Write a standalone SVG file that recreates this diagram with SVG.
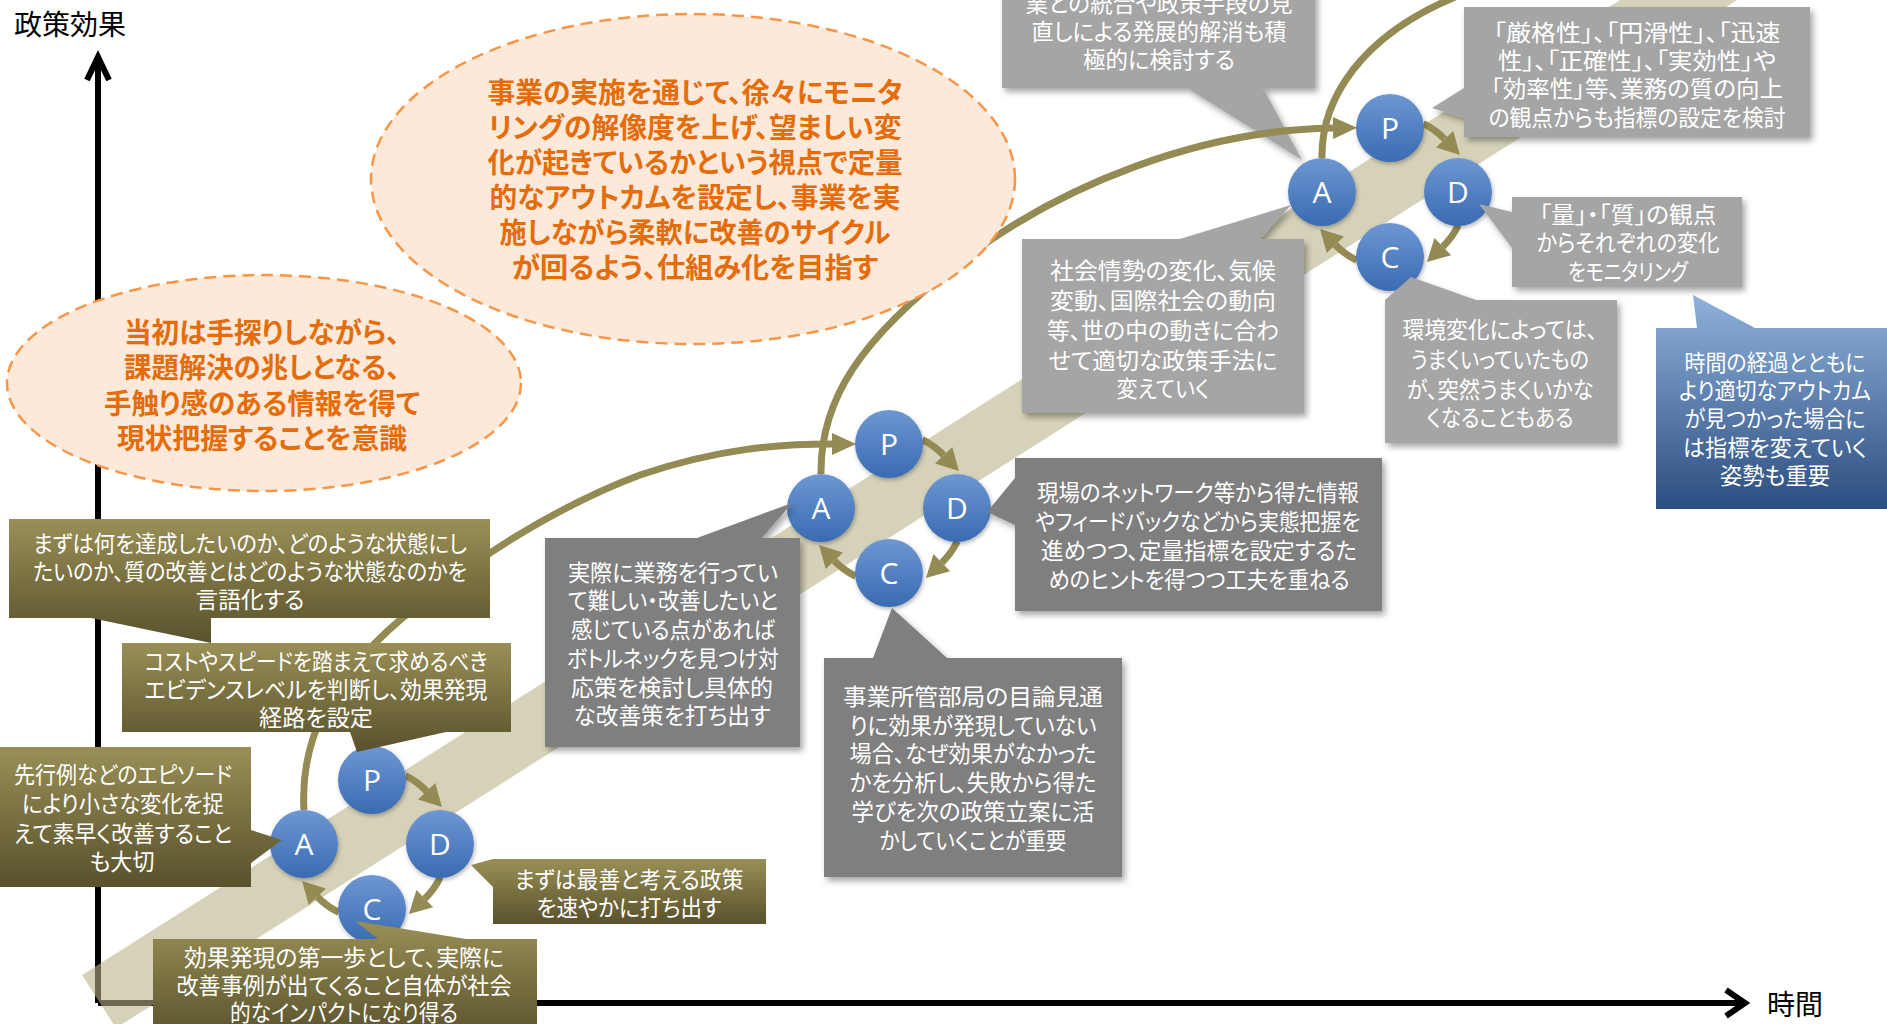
<svg xmlns="http://www.w3.org/2000/svg" width="1887" height="1024" viewBox="0 0 1887 1024">
<defs>
<style>
.t{font-family:"Noto Sans CJK JP","Noto Sans CJK SC",sans-serif;font-size:23px;fill:#fff;text-anchor:middle;font-feature-settings:"palt" 1;}
.e{font-family:"Noto Sans CJK JP","Noto Sans CJK SC",sans-serif;font-size:28px;font-weight:bold;fill:#e46c0a;text-anchor:middle;font-feature-settings:"palt" 1;}
.ax{font-family:"Noto Sans CJK JP","Noto Sans CJK SC",sans-serif;font-size:28px;fill:#000;}
.l{font-family:"Open Sans","Liberation Sans",sans-serif;font-size:30px;fill:#fff;text-anchor:middle;}
.olive{fill:url(#og);}
.gd{fill:#7f7f7f;filter:url(#sh);}
.gl{fill:#a5a5a5;filter:url(#sh);}
.cn{fill:none;stroke:#948a54;stroke-width:7;}
.ell{fill:#fde9d9;stroke:#f79646;stroke-width:2.5;stroke-dasharray:12 7;}
.ball{fill:url(#bg);filter:url(#bs);}
.axis{fill:none;stroke:#000;stroke-width:6;}
</style>
<linearGradient id="og" x1="0" y1="0" x2="0" y2="1"><stop offset="0" stop-color="#998f56"/><stop offset="1" stop-color="#59512c"/></linearGradient>
<linearGradient id="bb" x1="0" y1="0" x2="0" y2="1"><stop offset="0" stop-color="#8fb2dc"/><stop offset="1" stop-color="#2b4e80"/></linearGradient>
<linearGradient id="bg" x1="0" y1="0" x2="0" y2="1"><stop offset="0" stop-color="#6d97d2"/><stop offset="1" stop-color="#3a6bb2"/></linearGradient>
<filter id="sh" x="-10%" y="-10%" width="130%" height="130%"><feDropShadow dx="3" dy="4" stdDeviation="3" flood-color="#000" flood-opacity="0.35"/></filter>
<filter id="bs" x="-20%" y="-20%" width="150%" height="150%"><feDropShadow dx="1" dy="2" stdDeviation="2" flood-color="#000" flood-opacity="0.3"/></filter>
<marker id="ah" markerUnits="userSpaceOnUse" markerWidth="24" markerHeight="24" refX="0" refY="12" orient="auto" overflow="visible"><path d="M0,0 L22,12 L0,24 Z" fill="#948a54"/></marker>
<marker id="ahb" markerUnits="userSpaceOnUse" markerWidth="24" markerHeight="24" refX="0" refY="11" orient="auto" overflow="visible"><path d="M0,0 L24,11 L0,22 Z" fill="#948a54"/></marker>
</defs>

<g id="axes">
<path class="axis" d="M98,1003 V60"/>
<polyline class="axis" points="87,80 98,57 109,80"/>
<path class="axis" d="M98,1003 H1742"/>
<polyline class="axis" points="1726,990 1745,1003 1726,1016"/>
</g>

<g id="band"><polygon points="82,975 116,1028 1753,-10 1636,-10" fill="#bab288" fill-opacity="0.59"/></g>

<g id="box-g4">
<path class="gl" d="M1002,-10 H1315 V88 H1263 L1302,160 L1187,88 H1002 Z"/>
<text class="t" x="1159" y="12" textLength="267" lengthAdjust="spacingAndGlyphs">業との統合や政策手段の見</text>
<text class="t" x="1159" y="40" textLength="255" lengthAdjust="spacingAndGlyphs">直しによる発展的解消も積</text>
<text class="t" x="1159" y="68" textLength="152" lengthAdjust="spacingAndGlyphs">極的に検討する</text>
</g>

<g id="connectors">
<path class="cn" d="M304,810 C300,740 330,680 400,620 C470,560 560,505 640,475 C720,448 780,444 832,444" marker-end="url(#ahb)"/>
<path class="cn" d="M821,474 C820,400 860,339 960,262 C1060,185 1200,130 1333,128" marker-end="url(#ahb)"/>
<path class="cn" d="M1322,158 C1321,100 1360,35 1460,-5"/>
<g transform="translate(372,844)">
<path class="cn" d="M33.32,-68.31 A76,76 0 0 1 54.67,-52.79" marker-end="url(#ah)"/>
<path class="cn" d="M68.31,33.32 A76,76 0 0 1 52.79,54.67" marker-end="url(#ah)"/>
<path class="cn" d="M-33.32,68.31 A76,76 0 0 1 -54.67,52.79" marker-end="url(#ah)"/>
</g>
<g transform="translate(889,508)">
<path class="cn" d="M33.32,-68.31 A76,76 0 0 1 54.67,-52.79" marker-end="url(#ah)"/>
<path class="cn" d="M68.31,33.32 A76,76 0 0 1 52.79,54.67" marker-end="url(#ah)"/>
<path class="cn" d="M-33.32,68.31 A76,76 0 0 1 -54.67,52.79" marker-end="url(#ah)"/>
</g>
<g transform="translate(1390,192)">
<path class="cn" d="M33.32,-68.31 A76,76 0 0 1 54.67,-52.79" marker-end="url(#ah)"/>
<path class="cn" d="M68.31,33.32 A76,76 0 0 1 52.79,54.67" marker-end="url(#ah)"/>
<path class="cn" d="M-33.32,68.31 A76,76 0 0 1 -54.67,52.79" marker-end="url(#ah)"/>
</g>
</g>

<g id="ellipse-1">
<ellipse class="ell" cx="264" cy="383" rx="257" ry="108"/>
<text class="e" x="262" y="343" textLength="276" lengthAdjust="spacingAndGlyphs">当初は手探りしながら、</text>
<text class="e" x="262" y="378" textLength="276" lengthAdjust="spacingAndGlyphs">課題解決の兆しとなる、</text>
<text class="e" x="262" y="414" textLength="316" lengthAdjust="spacingAndGlyphs">手触り感のある情報を得て</text>
<text class="e" x="262" y="449" textLength="290" lengthAdjust="spacingAndGlyphs">現状把握することを意識</text>
</g>

<g id="ellipse-2">
<ellipse class="ell" cx="693" cy="179" rx="322" ry="165"/>
<text class="e" x="695" y="103" textLength="415" lengthAdjust="spacingAndGlyphs">事業の実施を通じて、徐々にモニタ</text>
<text class="e" x="695" y="138" textLength="413" lengthAdjust="spacingAndGlyphs">リングの解像度を上げ、望ましい変</text>
<text class="e" x="695" y="173" textLength="415" lengthAdjust="spacingAndGlyphs">化が起きているかという視点で定量</text>
<text class="e" x="695" y="208" textLength="411" lengthAdjust="spacingAndGlyphs">的なアウトカムを設定し、事業を実</text>
<text class="e" x="695" y="243" textLength="391" lengthAdjust="spacingAndGlyphs">施しながら柔軟に改善のサイクル</text>
<text class="e" x="695" y="278" textLength="366" lengthAdjust="spacingAndGlyphs">が回るよう、仕組み化を目指す</text>
</g>

<g id="c1-P"><circle class="ball" cx="372" cy="780" r="34"/><text class="l" x="372" y="791">P</text></g>
<g id="c1-A"><circle class="ball" cx="304" cy="844" r="34"/><text class="l" x="304" y="855">A</text></g>
<g id="c1-D"><circle class="ball" cx="440" cy="844" r="34"/><text class="l" x="440" y="855">D</text></g>
<g id="c1-C"><circle class="ball" cx="372" cy="909" r="34"/><text class="l" x="372" y="920">C</text></g>
<g id="c2-P"><circle class="ball" cx="889" cy="444" r="34"/><text class="l" x="889" y="455">P</text></g>
<g id="c2-A"><circle class="ball" cx="821" cy="508" r="34"/><text class="l" x="821" y="519">A</text></g>
<g id="c2-D"><circle class="ball" cx="957" cy="508" r="34"/><text class="l" x="957" y="519">D</text></g>
<g id="c2-C"><circle class="ball" cx="889" cy="573" r="34"/><text class="l" x="889" y="584">C</text></g>
<g id="c3-P"><circle class="ball" cx="1390" cy="128" r="34"/><text class="l" x="1390" y="139">P</text></g>
<g id="c3-A"><circle class="ball" cx="1322" cy="192" r="34"/><text class="l" x="1322" y="203">A</text></g>
<g id="c3-D"><circle class="ball" cx="1458" cy="192" r="34"/><text class="l" x="1458" y="203">D</text></g>
<g id="c3-C"><circle class="ball" cx="1390" cy="257" r="34"/><text class="l" x="1390" y="268">C</text></g>

<g id="box-o1">
<path class="olive" d="M9,519 H490 V618 H211 L211,643 L91,618 H9 Z"/>
<text class="t" x="250" y="552" textLength="434" lengthAdjust="spacingAndGlyphs">まずは何を達成したいのか、どのような状態にし</text>
<text class="t" x="250" y="580" textLength="434" lengthAdjust="spacingAndGlyphs">たいのか、質の改善とはどのような状態なのかを</text>
<text class="t" x="250" y="608" textLength="109" lengthAdjust="spacingAndGlyphs">言語化する</text>
</g>
<g id="box-o2">
<path class="olive" d="M122,643 H511 V732 H446 L357,752 L350,732 H122 Z"/>
<text class="t" x="316" y="670" textLength="343" lengthAdjust="spacingAndGlyphs">コストやスピードを踏まえて求めるべき</text>
<text class="t" x="316" y="698" textLength="343" lengthAdjust="spacingAndGlyphs">エビデンスレベルを判断し、効果発現</text>
<text class="t" x="316" y="726" textLength="114" lengthAdjust="spacingAndGlyphs">経路を設定</text>
</g>
<g id="box-o3">
<path class="olive" d="M0,747 H251 V830 L282,840 L251,863 V887 H0 Z"/>
<text class="t" x="123" y="783" textLength="218" lengthAdjust="spacingAndGlyphs">先行例などのエピソード</text>
<text class="t" x="123" y="812" textLength="202" lengthAdjust="spacingAndGlyphs">により小さな変化を捉</text>
<text class="t" x="123" y="842" textLength="218" lengthAdjust="spacingAndGlyphs">えて素早く改善すること</text>
<text class="t" x="122" y="870" textLength="65" lengthAdjust="spacingAndGlyphs">も大切</text>
</g>
<g id="box-o4">
<path class="olive" d="M493,859 H766 V924 H493 V887 L471,865 Z"/>
<text class="t" x="629" y="888" textLength="229" lengthAdjust="spacingAndGlyphs">まずは最善と考える政策</text>
<text class="t" x="629" y="916" textLength="185" lengthAdjust="spacingAndGlyphs">を速やかに打ち出す</text>
</g>
<g id="box-o5">
<path class="olive" d="M153,939 H378 L355,921 L466,939 H537 V1040 H153 Z"/>
<text class="t" x="344" y="966" textLength="320" lengthAdjust="spacingAndGlyphs">効果発現の第一歩として、実際に</text>
<text class="t" x="344" y="994" textLength="335" lengthAdjust="spacingAndGlyphs">改善事例が出てくること自体が社会</text>
<text class="t" x="344" y="1021" textLength="228" lengthAdjust="spacingAndGlyphs">的なインパクトになり得る</text>
</g>

<g id="box-g1">
<path class="gd" d="M545,538 H697 L792,503 L762,538 H800 V747 H545 Z"/>
<text class="t" x="673" y="581" textLength="210" lengthAdjust="spacingAndGlyphs">実際に業務を行ってい</text>
<text class="t" x="673" y="609" textLength="210" lengthAdjust="spacingAndGlyphs">て難しい・改善したいと</text>
<text class="t" x="673" y="638" textLength="204" lengthAdjust="spacingAndGlyphs">感じている点があれば</text>
<text class="t" x="673" y="667" textLength="212" lengthAdjust="spacingAndGlyphs">ボトルネックを見つけ対</text>
<text class="t" x="672" y="696" textLength="202" lengthAdjust="spacingAndGlyphs">応策を検討し具体的</text>
<text class="t" x="672" y="724" textLength="197" lengthAdjust="spacingAndGlyphs">な改善策を打ち出す</text>
</g>
<g id="box-g2">
<path class="gd" d="M824,658 H873 L892,608 L947,658 H1122 V877 H824 Z"/>
<text class="t" x="973" y="705" textLength="260" lengthAdjust="spacingAndGlyphs">事業所管部局の目論見通</text>
<text class="t" x="973" y="734" textLength="247" lengthAdjust="spacingAndGlyphs">りに効果が発現していない</text>
<text class="t" x="973" y="762" textLength="247" lengthAdjust="spacingAndGlyphs">場合、なぜ効果がなかった</text>
<text class="t" x="973" y="791" textLength="247" lengthAdjust="spacingAndGlyphs">かを分析し、失敗から得た</text>
<text class="t" x="973" y="820" textLength="243" lengthAdjust="spacingAndGlyphs">学びを次の政策立案に活</text>
<text class="t" x="973" y="849" textLength="187" lengthAdjust="spacingAndGlyphs">かしていくことが重要</text>
</g>
<g id="box-g3">
<path class="gd" d="M1015,458 H1382 V611 H1015 V525 L987,512 L1015,478 Z"/>
<text class="t" x="1198" y="501" textLength="322" lengthAdjust="spacingAndGlyphs">現場のネットワーク等から得た情報</text>
<text class="t" x="1198" y="530" textLength="325" lengthAdjust="spacingAndGlyphs">やフィードバックなどから実態把握を</text>
<text class="t" x="1199" y="559" textLength="316" lengthAdjust="spacingAndGlyphs">進めつつ、定量指標を設定するた</text>
<text class="t" x="1199" y="588" textLength="301" lengthAdjust="spacingAndGlyphs">めのヒントを得つつ工夫を重ねる</text>
</g>
<g id="box-g5">
<path class="gl" d="M1464,7 H1810 V137 H1464 V118 L1432,108 L1464,88 Z"/>
<text class="t" x="1637" y="41" textLength="287" lengthAdjust="spacingAndGlyphs">「厳格性」、「円滑性」、「迅速</text>
<text class="t" x="1637" y="69" textLength="278" lengthAdjust="spacingAndGlyphs">性」、「正確性」、「実効性」や</text>
<text class="t" x="1637" y="97" textLength="292" lengthAdjust="spacingAndGlyphs">「効率性」等、業務の質の向上</text>
<text class="t" x="1637" y="126" textLength="297" lengthAdjust="spacingAndGlyphs">の観点からも指標の設定を検討</text>
</g>
<g id="box-g6">
<path class="gl" d="M1022,239 H1180 L1291,205 L1260,239 H1304 V413 H1022 Z"/>
<text class="t" x="1163" y="279" textLength="226" lengthAdjust="spacingAndGlyphs">社会情勢の変化、気候</text>
<text class="t" x="1163" y="309" textLength="226" lengthAdjust="spacingAndGlyphs">変動、国際社会の動向</text>
<text class="t" x="1163" y="339" textLength="232" lengthAdjust="spacingAndGlyphs">等、世の中の動きに合わ</text>
<text class="t" x="1163" y="369" textLength="229" lengthAdjust="spacingAndGlyphs">せて適切な政策手法に</text>
<text class="t" x="1163" y="397" textLength="93" lengthAdjust="spacingAndGlyphs">変えていく</text>
</g>
<g id="box-g7">
<path class="gl" d="M1385,300 L1411,277 L1476,300 H1617 V443 H1385 Z"/>
<text class="t" x="1500" y="338" textLength="195" lengthAdjust="spacingAndGlyphs">環境変化によっては、</text>
<text class="t" x="1500" y="368" textLength="178" lengthAdjust="spacingAndGlyphs">うまくいっていたもの</text>
<text class="t" x="1500" y="398" textLength="187" lengthAdjust="spacingAndGlyphs">が、突然うまくいかな</text>
<text class="t" x="1500" y="426" textLength="147" lengthAdjust="spacingAndGlyphs">くなることもある</text>
</g>
<g id="box-g8">
<path class="gl" d="M1512,197 H1742 V287 H1512 V248 L1479,204 L1512,212 Z"/>
<text class="t" x="1628" y="223" textLength="177" lengthAdjust="spacingAndGlyphs">「量」・「質」の観点</text>
<text class="t" x="1628" y="251" textLength="183" lengthAdjust="spacingAndGlyphs">からそれぞれの変化</text>
<text class="t" x="1628" y="280" textLength="120" lengthAdjust="spacingAndGlyphs">をモニタリング</text>
</g>
<g id="box-b1">
<path fill="url(#bb)" d="M1656,328 H1697 L1693,295 L1755,328 H1890 V509 H1656 Z"/>
<text class="t" x="1775" y="371" textLength="181" lengthAdjust="spacingAndGlyphs">時間の経過とともに</text>
<text class="t" x="1775" y="399" textLength="192" lengthAdjust="spacingAndGlyphs">より適切なアウトカム</text>
<text class="t" x="1775" y="427" textLength="181" lengthAdjust="spacingAndGlyphs">が見つかった場合に</text>
<text class="t" x="1775" y="456" textLength="184" lengthAdjust="spacingAndGlyphs">は指標を変えていく</text>
<text class="t" x="1775" y="484" textLength="110" lengthAdjust="spacingAndGlyphs">姿勢も重要</text>
</g>

<g id="labels">
<text class="ax" x="14" y="35">政策効果</text>
<text class="ax" x="1767" y="1015">時間</text>
</g>
</svg>
